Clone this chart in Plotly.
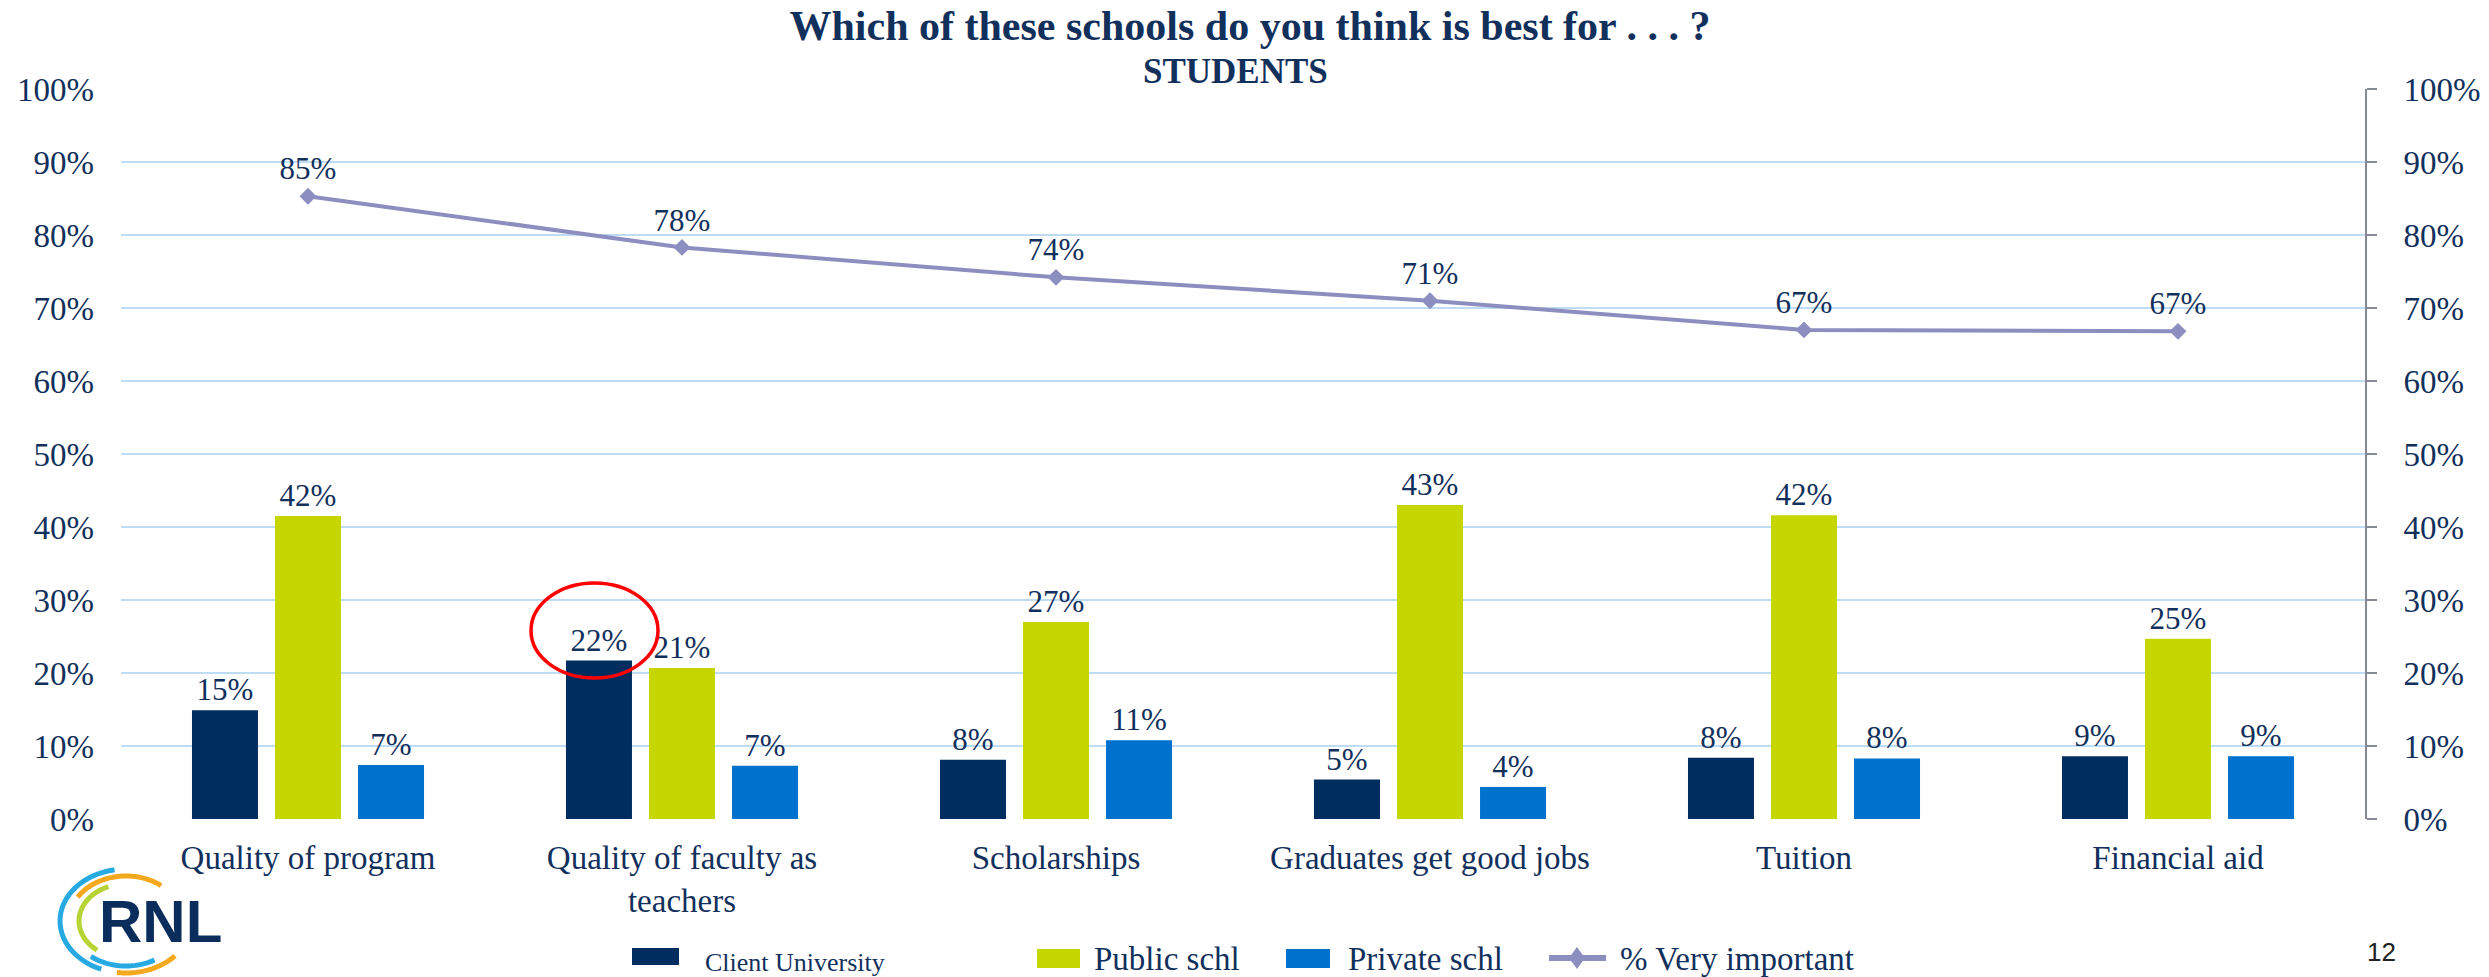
import math
import plotly.graph_objects as go

# ---------------- data ----------------
categories = ["Quality of program", "Quality of faculty as<br>teachers", "Scholarships",
              "Graduates get good jobs", "Tuition", "Financial aid"]
client_university = [0.149, 0.217, 0.081, 0.054, 0.084, 0.086]
public_schl = [0.415, 0.207, 0.270, 0.430, 0.416, 0.247]
private_schl = [0.074, 0.073, 0.108, 0.044, 0.083, 0.086]
very_important = [0.853, 0.783, 0.742, 0.710, 0.670, 0.668]
y_ticks = [i / 10 for i in range(11)]

# ---------------- style ----------------
W, H = 2489, 977
ML, MR, MT, MB = 121, 124, 89, 158
PW, PH = W - ML - MR, H - MT - MB
NAVY = "#002D5F"
GREEN = "#C5D600"
BLUE = "#0072CE"
LAV = "#8C8EC0"
TXT = "#12305C"
GRID = "#BFDCF5"
SERIF = "Liberation Serif"


def pp(X, Y):
    """pixel -> paper coordinates"""
    return (X - ML) / PW, (H - MB - Y) / PH


fig = go.Figure()
for name, vals, col in [("Client University", client_university, NAVY),
                        ("Public schl", public_schl, GREEN),
                        ("Private schl", private_schl, BLUE)]:
    fig.add_trace(go.Bar(
        x=categories, y=vals, name=name, marker=dict(color=col, line=dict(width=0)),
        texttemplate="%{y:.0%}", textposition="outside", cliponaxis=False,
        textfont=dict(family=SERIF, size=31, color=TXT), showlegend=False))

fig.add_trace(go.Scatter(
    x=categories, y=very_important, name="% Very important", yaxis="y2",
    mode="lines+markers+text", line=dict(color=LAV, width=4),
    marker=dict(symbol="diamond", size=13, color=LAV),
    texttemplate="%{y:.0%}", textposition="top center", cliponaxis=False,
    textfont=dict(family=SERIF, size=31, color=TXT), showlegend=False))

shapes = []
annotations = []

# manual legend
def rect(x0, x1, y0, y1, col):
    a0, b0 = pp(x0, y1)
    a1, b1 = pp(x1, y0)
    shapes.append(dict(type="rect", xref="paper", yref="paper", x0=a0, x1=a1, y0=b0, y1=b1,
                       fillcolor=col, line=dict(width=0), layer="above"))

def label(x, y, text, size, anchor="left", color=TXT, family=SERIF, bold=False):
    a, b = pp(x, y)
    annotations.append(dict(xref="paper", yref="paper", x=a, y=b, text=("<b>%s</b>" % text) if bold else text,
                            showarrow=False, xanchor=anchor, yanchor="middle",
                            font=dict(family=family, size=size, color=color)))

rect(632, 679, 948, 965, NAVY)
label(703, 962, "Client University", 26)
rect(1037, 1080, 949, 968, GREEN)
label(1092, 959, "Public schl", 33)
rect(1286, 1330, 949, 968, BLUE)
label(1346, 959, "Private schl", 33)
a0, b0 = pp(1549, 958)
a1, b1 = pp(1606, 958)
shapes.append(dict(type="line", xref="paper", yref="paper", x0=a0, x1=a1, y0=b0, y1=b1,
                   line=dict(color=LAV, width=6)))
dpts = [(1577, 947), (1585, 958), (1577, 969), (1569, 958)]
path = "M " + " L ".join("%f,%f" % pp(x, y) for x, y in dpts) + " Z"
shapes.append(dict(type="path", xref="paper", yref="paper", path=path, fillcolor=LAV,
                   line=dict(width=0)))
label(1618, 959, "% Very important", 33)

# page number
label(2381, 952, "12", 26, anchor="center", color="#222222", family="Liberation Sans")

# subtitle (second title line)
label(1235, 71, "STUDENTS", 35, anchor="center", bold=True)

# red ellipse highlight
e0 = pp(531, 678)
e1 = pp(658, 583)
shapes.append(dict(type="circle", xref="paper", yref="paper", x0=e0[0], x1=e1[0], y0=e0[1], y1=e1[1],
                   line=dict(color="#FF0000", width=3.5)))

# RNL logo
def arc(cx, cy, rx, ry, a_start, a_end, col, width=5):
    pts = []
    n = 30
    for i in range(n + 1):
        t = math.radians(a_start + (a_end - a_start) * i / n)
        pts.append(pp(cx + rx * math.cos(t), cy - ry * math.sin(t)))
    p = "M " + " L ".join("%f,%f" % q for q in pts)
    shapes.append(dict(type="path", xref="paper", yref="paper", path=p,
                       line=dict(color=col, width=width)))

cx, cy = 126, 921
arc(cx, cy, 66, 52, 100, 248, "#27A9E1")
arc(cx, cy, 57, 45, 52, 148, "#F4A81D")
arc(cx, cy, 57, 45, 232, 300, "#27A9E1")
arc(cx, cy, 66, 52, 262, 318, "#F4A81D")
arc(cx, cy, 47, 37, 112, 232, "#B6D433")
label(160, 921, "RNL", 60, anchor="center", color="#0A2D5C", family="Liberation Sans", bold=True)

fig.update_layout(
    width=W, height=H, autosize=False,
    margin=dict(l=ML, r=MR, t=MT, b=MB),
    paper_bgcolor="white", plot_bgcolor="white",
    barmode="group", bargap=0.334, bargroupgap=0.205,
    title=dict(text="<b>Which of these schools do you think is best for . . . ?</b>",
               x=1250 / W, xanchor="center", xref="container", y=1 - 25 / H, yanchor="middle",
               yref="container",
               font=dict(family=SERIF, size=42, color=TXT)),
    xaxis=dict(showgrid=False, showline=False, zeroline=False, ticks="",
               tickfont=dict(family=SERIF, size=33, color=TXT), automargin=False,
               ticklabelstandoff=16),
    yaxis=dict(range=[0, 1], tickvals=y_ticks, tickformat=".0%", showgrid=True, gridcolor=GRID,
               gridwidth=2, zeroline=False, showline=False, ticks="",
               tickfont=dict(family=SERIF, size=33, color=TXT), automargin=False,
               ticklabelstandoff=26),
    yaxis2=dict(range=[0, 1], tickvals=y_ticks, tickformat=".0%", overlaying="y", side="right",
                showgrid=False, zeroline=False, showline=True, linecolor="#868A94", linewidth=2,
                ticks="outside", ticklen=10, tickwidth=2, tickcolor="#868A94",
                tickfont=dict(family=SERIF, size=33, color=TXT), automargin=False,
                ticklabelstandoff=20),
    shapes=shapes, annotations=annotations, showlegend=False,
)

fig.write_html("out.html")
